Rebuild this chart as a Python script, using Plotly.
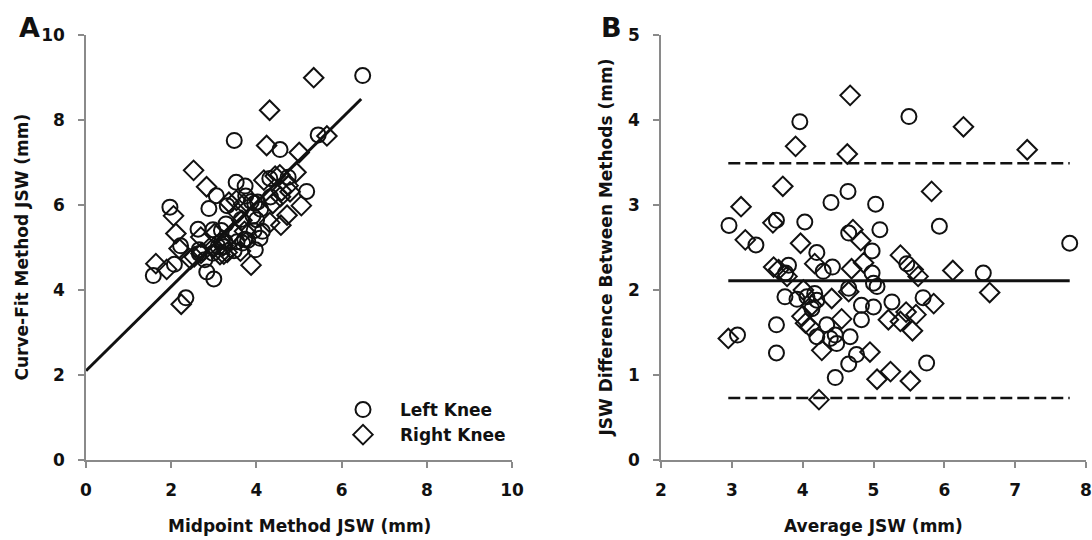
import plotly.graph_objects as go

# Bland-Altman values (average JSW, difference curve-fit minus midpoint)
left_avg = [3.96, 5.50, 4.64, 4.40, 5.03, 2.96, 3.63, 4.03, 5.09, 5.93, 4.65, 3.34, 7.77,
            4.98, 4.20, 4.42, 4.98, 5.47, 6.55, 3.80, 3.76, 4.29, 4.65, 5.00, 5.05, 4.83,
            5.00, 5.26, 5.70, 3.75, 3.92, 4.06, 4.17, 4.20, 4.13, 3.63, 4.34, 4.83, 4.46,
            4.67, 4.48, 4.20, 4.39, 4.76, 4.65, 5.75, 4.46, 3.08, 3.63]
left_diff = [3.98, 4.04, 3.16, 3.03, 3.01, 2.76, 2.82, 2.80, 2.71, 2.75, 2.67, 2.53, 2.55,
             2.46, 2.44, 2.27, 2.20, 2.31, 2.20, 2.29, 2.20, 2.22, 2.02, 2.08, 2.04, 1.82,
             1.80, 1.86, 1.91, 1.92, 1.89, 1.92, 1.96, 1.88, 1.78, 1.59, 1.59, 1.65, 1.47,
             1.45, 1.37, 1.45, 1.43, 1.24, 1.13, 1.14, 0.97, 1.47, 1.26]

right_avg = [3.90, 4.67, 4.63, 3.72, 6.27, 7.17, 5.82, 3.13, 3.58, 4.71, 4.82, 3.19, 3.97,
             4.69, 4.86, 5.38, 5.56, 5.63, 6.12, 6.64, 4.65, 5.85, 4.41, 4.55, 5.21, 5.38,
             5.46, 5.60, 5.55, 4.95, 5.05, 5.24, 5.52, 3.59, 3.66, 3.78, 4.17, 4.01, 4.13,
             3.99, 4.04, 4.10, 4.27, 2.95, 4.23]
right_diff = [3.69, 4.29, 3.60, 3.22, 3.92, 3.65, 3.16, 2.98, 2.79, 2.71, 2.58, 2.59, 2.55,
              2.25, 2.32, 2.41, 2.24, 2.16, 2.23, 1.97, 1.98, 1.84, 1.90, 1.66, 1.65, 1.63,
              1.74, 1.71, 1.52, 1.27, 0.95, 1.04, 0.93, 2.27, 2.24, 2.16, 2.31, 2.00, 1.82,
              1.69, 1.61, 1.57, 1.29, 1.43, 0.71]

# Panel A pairs recovered from the same measurements
left_mid = [a - d / 2 for a, d in zip(left_avg, left_diff)]
left_cf = [a + d / 2 for a, d in zip(left_avg, left_diff)]
right_mid = [a - d / 2 for a, d in zip(right_avg, right_diff)]
right_cf = [a + d / 2 for a, d in zip(right_avg, right_diff)]

# Regression line (panel A) and agreement limits (panel B)
fit_intercept = 2.10
fit_slope = 0.99
fit_x_max = 6.46
mean_diff = 2.11
loa_upper = 3.49
loa_lower = 0.73

W, H = 1092, 540
FONT = "DejaVu Sans"
INK = "#111111"
AXIS = "#8a8a8a"

fig = go.Figure()

mk_circle = dict(symbol="circle-open", size=15, color=INK, line=dict(width=2, color=INK))
mk_diamond = dict(symbol="diamond-open", size=15, color=INK, line=dict(width=2, color=INK))

fig.add_trace(go.Scatter(x=left_mid, y=left_cf, mode="markers", marker=mk_circle,
                         name="Left Knee", xaxis="x", yaxis="y", legendgroup="l"))
fig.add_trace(go.Scatter(x=right_mid, y=right_cf, mode="markers", marker=mk_diamond,
                         name="Right Knee", xaxis="x", yaxis="y", legendgroup="r"))
fig.add_trace(go.Scatter(x=[0, fit_x_max],
                         y=[fit_intercept, fit_intercept + fit_slope * fit_x_max],
                         mode="lines", line=dict(color=INK, width=3),
                         showlegend=False, xaxis="x", yaxis="y"))

fig.add_trace(go.Scatter(x=left_avg, y=left_diff, mode="markers", marker=mk_circle,
                         showlegend=False, xaxis="x2", yaxis="y2"))
fig.add_trace(go.Scatter(x=right_avg, y=right_diff, mode="markers", marker=mk_diamond,
                         showlegend=False, xaxis="x2", yaxis="y2"))
all_avg = left_avg + right_avg
xmin, xmax = min(all_avg), max(all_avg)
fig.add_trace(go.Scatter(x=[xmin, xmax], y=[mean_diff, mean_diff], mode="lines",
                         line=dict(color=INK, width=3), showlegend=False,
                         xaxis="x2", yaxis="y2"))
for v in (loa_upper, loa_lower):
    fig.add_trace(go.Scatter(x=[xmin, xmax], y=[v, v], mode="lines",
                             line=dict(color=INK, width=2.5, dash="12px,5px"),
                             showlegend=False, xaxis="x2", yaxis="y2"))

tickfont = dict(family=FONT, size=17, color=INK, weight="bold")

def axis(domain, rng, dtick, anchor, lblstand):
    return dict(domain=domain, range=rng, dtick=dtick, anchor=anchor,
                showgrid=False, zeroline=False,
                showline=True, linecolor=AXIS, linewidth=1.5, ticks="outside",
                ticklen=6, tickwidth=1.5, tickcolor=AXIS, tickfont=tickfont,
                ticklabelstandoff=lblstand, automargin=False, fixedrange=True)

def label(text, x, y, angle=0, size=17):
    return dict(text=text, x=x / W, y=1 - y / H, xref="paper", yref="paper",
                showarrow=False, xanchor="center", yanchor="middle", textangle=angle,
                font=dict(family=FONT, size=size, color=INK, weight="bold"))

ydom = [1 - 460 / H, 1 - 35 / H]
fig.update_layout(
    width=W, height=H,
    margin=dict(l=0, r=0, t=0, b=0),
    paper_bgcolor="white", plot_bgcolor="white",
    font=dict(family=FONT, color=INK),
    xaxis=axis([86 / W, 512 / W], [0, 10], 2, "y", 8),
    yaxis=axis(ydom, [0, 10], 2, "x", 10),
    xaxis2=axis([661 / W, 1086 / W], [2, 8], 1, "y2", 8),
    yaxis2=axis(ydom, [0, 5], 1, "x2", 10),
    showlegend=True,
    legend=dict(x=326 / W, xanchor="left", y=1 - 392 / H, yanchor="top",
                bgcolor="rgba(0,0,0,0)", font=dict(family=FONT, size=17, color=INK, weight="bold"),
                itemwidth=64, tracegroupgap=2, traceorder="normal"),
    annotations=[
        label("A", 29.5, 27, size=27),
        label("B", 611, 27, size=27),
        label("Midpoint Method JSW (mm)", 299, 526),
        label("Average JSW (mm)", 873.5, 526),
        label("Curve-Fit Method JSW (mm)", 22, 247.5, angle=-90),
        label("JSW Difference Between Methods (mm)", 606, 247.5, angle=-90),
    ],
)

fig.write_html("out.html", config={"displayModeBar": False},
               post_script="document.body.style.margin='0';document.body.style.padding='0';")
